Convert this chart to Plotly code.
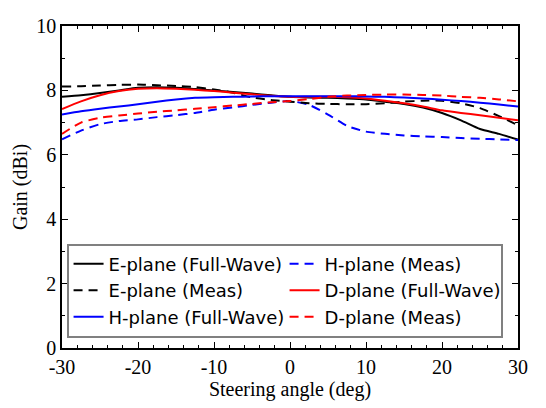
import plotly.graph_objects as go

angle = [-30, -27.5, -25, -22.5, -20, -17.5, -15, -12.5, -10, -7.5, -5, -2.5, 0,
         2.5, 5, 7.5, 10, 12.5, 15, 17.5, 20, 22.5, 25, 27.5, 30]

e_fw = [7.8, 7.85, 7.92, 8.0, 8.08, 8.1, 8.08, 8.04, 8.0, 7.95, 7.9, 7.85, 7.8,
        7.78, 7.77, 7.75, 7.72, 7.65, 7.58, 7.47, 7.3, 7.07, 6.8, 6.65, 6.47]
e_meas = [8.12, 8.13, 8.15, 8.17, 8.18, 8.16, 8.14, 8.1, 8.03, 7.93, 7.78, 7.7, 7.65,
          7.6, 7.58, 7.57, 7.57, 7.6, 7.65, 7.68, 7.68, 7.6, 7.45, 7.2, 6.92]
h_fw = [7.25, 7.35, 7.43, 7.5, 7.57, 7.65, 7.72, 7.77, 7.79, 7.8, 7.81, 7.82, 7.82,
        7.82, 7.82, 7.82, 7.81, 7.8, 7.78, 7.75, 7.71, 7.67, 7.62, 7.56, 7.5]
h_meas = [6.48, 6.75, 6.95, 7.05, 7.1, 7.17, 7.23, 7.3, 7.4, 7.47, 7.55, 7.62, 7.67,
          7.55, 7.25, 6.9, 6.72, 6.65, 6.6, 6.57, 6.55, 6.52, 6.5, 6.48, 6.46]
d_fw = [7.42, 7.66, 7.85, 7.98, 8.05, 8.07, 8.05, 8.02, 7.98, 7.93, 7.88, 7.83, 7.8,
        7.8, 7.8, 7.79, 7.75, 7.68, 7.6, 7.5, 7.38, 7.3, 7.23, 7.15, 7.07]
d_meas = [6.65, 7.0, 7.15, 7.22, 7.28, 7.34, 7.38, 7.43, 7.48, 7.53, 7.58, 7.63, 7.67,
          7.73, 7.8, 7.84, 7.86, 7.87, 7.87, 7.86, 7.84, 7.8, 7.77, 7.72, 7.66]

x_ticks = [-30, -20, -10, 0, 10, 20, 30]
y_ticks = [0, 2, 4, 6, 8, 10]

DASH = "9px,6px"
series = [
    ("E-plane (Full-Wave)", e_fw, "black", "solid"),
    ("H-plane (Meas)", h_meas, "#0000ff", DASH),
    ("E-plane (Meas)", e_meas, "black", DASH),
    ("D-plane (Full-Wave)", d_fw, "#ff0000", "solid"),
    ("H-plane (Full-Wave)", h_fw, "#0000ff", "solid"),
    ("D-plane (Meas)", d_meas, "#ff0000", DASH),
]

fig = go.Figure()
for name, vals, color, dash in series:
    fig.add_trace(go.Scatter(
        x=angle, y=vals, mode="lines", name=name,
        line=dict(color=color, width=2, dash=dash, shape="spline", smoothing=0.6),
    ))

SERIF = "Liberation Serif"
axis_common = dict(
    showgrid=False, zeroline=False, showline=True, linecolor="black", linewidth=1.5,
    mirror="ticks", ticks="inside", ticklen=6, tickwidth=1, tickcolor="black",
    tickfont=dict(family=SERIF, size=20, color="black"),
    ticklabeloverflow="allow",
)

fig.update_xaxes(
    range=[-30, 30], tickvals=x_ticks, ticktext=[str(v) for v in x_ticks],
    title=dict(text="Steering angle (deg)", font=dict(family=SERIF, size=20, color="black"), standoff=0),
    minor=dict(dtick=2, ticks="inside", ticklen=3, tickcolor="black"),
    **axis_common,
)
fig.update_yaxes(
    range=[0, 10], tickvals=y_ticks, ticktext=[str(v) for v in y_ticks],
    title=dict(text="Gain (dBi)", font=dict(family=SERIF, size=20, color="black"), standoff=3),
    minor=dict(dtick=1, ticks="inside", ticklen=3, tickcolor="black"),
    **axis_common,
)

fig.update_layout(
    width=538, height=400,
    margin=dict(l=54, r=28, t=7, b=60),
    plot_bgcolor="white", paper_bgcolor="white",
    legend=dict(
        x=0.01, y=0.324, xanchor="left", yanchor="top",
        orientation="h", entrywidth=171, entrywidthmode="pixels",
        bgcolor="white", bordercolor="#808080", borderwidth=2,
        font=dict(family="DejaVu Sans", size=18, color="black"),
        itemwidth=30,
    ),
    showlegend=True,
)

fig.write_html("out.html")
